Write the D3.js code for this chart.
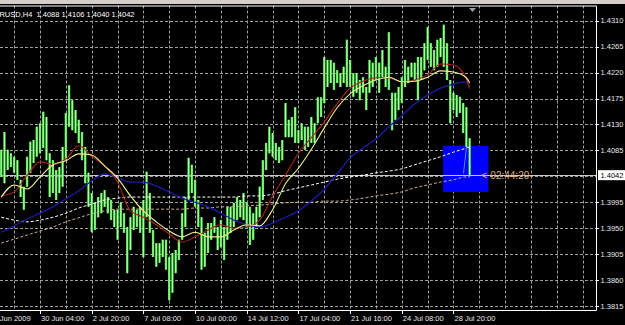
<!DOCTYPE html>
<html>
<head>
<meta charset="utf-8">
<script src="https://cdn.jsdelivr.net/npm/d3@7"></script>
<style>
  html, body { margin: 0; padding: 0; background: #000; }
  svg { display: block; }
  text { font-family: "Liberation Sans", Arial, sans-serif; }
</style>
</head>
<body>
<svg id="chart" width="625" height="325"></svg>
<script>
const titleText = "EURUSD,H4  1.4088 1.4106 1.4040 1.4042";

// H4 bars (index 0 = first visible bar)
const highs = [
  1.4086, 1.4117, 1.4086, 1.4080, 1.4074, 1.4068, 1.4034, 1.4022, 1.4074, 1.4100,
  1.4103, 1.4126, 1.4132, 1.4152, 1.4143, 1.4080, 1.4068, 1.4051, 1.4056, 1.4091,
  1.4150, 1.4198, 1.4172, 1.4155, 1.4138, 1.4117, 1.4091, 1.4046, 1.4011, 1.3994,
  1.4004, 1.4011, 1.4016, 1.4004, 1.3999, 1.3982, 1.3982, 1.3994, 1.3976, 1.3952,
  1.3969, 1.3987, 1.3982, 1.3987, 1.3999, 1.4048, 1.4011, 1.3947, 1.3924, 1.3924,
  1.3930, 1.3930, 1.3900, 1.3907, 1.3912, 1.3930, 1.3976, 1.4004, 1.4072, 1.4060,
  1.4034, 1.3999, 1.3969, 1.3942, 1.3959, 1.3959, 1.3969, 1.3952, 1.3964, 1.3952,
  1.3987, 1.3987, 1.3994, 1.4004, 1.3999, 1.4011, 1.3994, 1.3987, 1.3976, 1.3987,
  1.4022, 1.4068, 1.4098, 1.4126, 1.4115, 1.4098, 1.4091, 1.4103, 1.4167, 1.4138,
  1.4143, 1.4160, 1.4120, 1.4132, 1.4126, 1.4126, 1.4143, 1.4132, 1.4177, 1.4177,
  1.4247, 1.4242, 1.4242, 1.4237, 1.4224, 1.4219, 1.4230, 1.4277, 1.4242, 1.4219,
  1.4219, 1.4207, 1.4212, 1.4195, 1.4242, 1.4237, 1.4247, 1.4237, 1.4259, 1.4230,
  1.4290, 1.4185, 1.4185, 1.4195, 1.4212, 1.4242, 1.4230, 1.4237, 1.4237, 1.4247,
  1.4247, 1.4271, 1.4299, 1.4271, 1.4259, 1.4277, 1.4280, 1.4303, 1.4271, 1.4207,
  1.4185, 1.4181, 1.4178, 1.4167, 1.4160, 1.4106
];
const lows = [
  1.4039, 1.4028, 1.4051, 1.4056, 1.4046, 1.4034, 1.4004, 1.3982, 1.4022, 1.4046,
  1.4063, 1.4074, 1.4080, 1.4089, 1.4068, 1.4004, 1.4011, 1.3999, 1.4011, 1.4022,
  1.4068, 1.4126, 1.4120, 1.4115, 1.4098, 1.4068, 1.4028, 1.3987, 1.3943, 1.3947,
  1.3969, 1.3976, 1.3987, 1.3976, 1.3964, 1.3952, 1.3930, 1.3952, 1.3942, 1.3872,
  1.3912, 1.3947, 1.3952, 1.3942, 1.3900, 1.3969, 1.3942, 1.3900, 1.3883, 1.3890,
  1.3900, 1.3878, 1.3825, 1.3838, 1.3872, 1.3895, 1.3930, 1.3952, 1.3999, 1.4011,
  1.3987, 1.3952, 1.3878, 1.3883, 1.3907, 1.3930, 1.3942, 1.3912, 1.3917, 1.3895,
  1.3930, 1.3942, 1.3952, 1.3964, 1.3969, 1.3964, 1.3952, 1.3921, 1.3930, 1.3952,
  1.3969, 1.3999, 1.4051, 1.4080, 1.4074, 1.4068, 1.4063, 1.4068, 1.4108, 1.4108,
  1.4108, 1.4098, 1.4098, 1.4103, 1.4086, 1.4091, 1.4098, 1.4098, 1.4132, 1.4143,
  1.4167, 1.4195, 1.4202, 1.4190, 1.4202, 1.4195, 1.4202, 1.4195, 1.4195, 1.4178,
  1.4185, 1.4172, 1.4185, 1.4155, 1.4185, 1.4195, 1.4207, 1.4185, 1.4212, 1.4195,
  1.4190, 1.4120, 1.4138, 1.4155, 1.4167, 1.4195, 1.4202, 1.4212, 1.4207, 1.4172,
  1.4207, 1.4224, 1.4242, 1.4230, 1.4224, 1.4230, 1.4247, 1.4230, 1.4207, 1.4132,
  1.4155, 1.4143, 1.4150, 1.4115, 1.4091, 1.4040
];

// moving averages, read every 4 bars
const maBars = [0, 4, 8, 12, 16, 20, 24, 28, 32, 36, 40, 44, 48, 52, 56, 60, 64, 68, 72,
  76, 80, 84, 88, 92, 96, 100, 104, 108, 112, 116, 120, 124, 128, 132, 136, 140, 144, 145];
const maYellow = [1.4004, 1.4025, 1.4018, 1.4039, 1.4060, 1.4067, 1.4079, 1.4077, 1.4058, 1.4037,
  1.4006, 1.3980, 1.3961, 1.3945, 1.3935, 1.3943, 1.3935, 1.3935, 1.3947, 1.3956,
  1.3954, 1.3982, 1.4027, 1.4054, 1.4087, 1.4124, 1.4159, 1.4183, 1.4197, 1.4207,
  1.4212, 1.4204, 1.4205, 1.4212, 1.4223, 1.4221, 1.4211, 1.4202];
const maRed = [1.4006, 1.4013, 1.4042, 1.4065, 1.4061, 1.4070, 1.4093, 1.4075, 1.4058, 1.4030,
  1.3980, 1.3969, 1.3956, 1.3940, 1.3926, 1.3935, 1.3947, 1.3956, 1.3950, 1.3952,
  1.3964, 1.4006, 1.4042, 1.4080, 1.4107, 1.4134, 1.4166, 1.4193, 1.4205, 1.4211,
  1.4211, 1.4204, 1.4207, 1.4216, 1.4235, 1.4233, 1.4209, 1.4192];
const maBlue = [1.3943, 1.3954, 1.3966, 1.3976, 1.3987, 1.4001, 1.4015, 1.4032, 1.4044, 1.4037,
  1.4030, 1.4030, 1.4023, 1.4013, 1.4002, 1.3995, 1.3987, 1.3976, 1.3964, 1.3956,
  1.3952, 1.3959, 1.3969, 1.3980, 1.3997, 1.4018, 1.4044, 1.4072, 1.4089, 1.4105,
  1.4126, 1.4145, 1.4166, 1.4181, 1.4193, 1.4200, 1.4204, 1.4195];
const maWhite = [1.3969, 1.3964, 1.3961, 1.3964, 1.3969, 1.3976, 1.3985, 1.3992, 1.3999, 1.4002,
  1.4004, 1.4004, 1.4004, 1.4004, 1.4004, 1.4004, 1.4004, 1.4004, 1.4004, 1.4006,
  1.4006, 1.4009, 1.4015, 1.4020, 1.4025, 1.4030, 1.4035, 1.4039, 1.4042, 1.4046,
  1.4049, 1.4053, 1.4060, 1.4067, 1.4074, 1.4082, 1.4089, 1.4091];
const maTan = [1.3924, 1.3931, 1.3938, 1.3945, 1.3952, 1.3961, 1.3968, 1.3975, 1.3980, 1.3983,
  1.3983, 1.3983, 1.3983, 1.3983, 1.3983, 1.3985, 1.3985, 1.3987, 1.3987, 1.3989,
  1.3990, 1.3992, 1.3994, 1.3995, 1.3995, 1.3997, 1.3997, 1.3999, 1.4002, 1.4006,
  1.4009, 1.4013, 1.4020, 1.4025, 1.4030, 1.4034, 1.4039, 1.4039];

const priceTicks = [1.4310, 1.4265, 1.4220, 1.4175, 1.4130, 1.4085, 1.4040, 1.3995, 1.3950, 1.3905, 1.3860, 1.3815];
const timeTickBars = [-4, 12, 28, 44, 60, 76, 92, 108, 124, 140];
const timeTickLabels = ["26 Jun 2009", "30 Jun 04:00", "2 Jul 20:00", "7 Jul 08:00", "10 Jul 00:00",
  "14 Jul 12:00", "17 Jul 04:00", "21 Jul 16:00", "24 Jul 08:00", "28 Jul 20:00"];
const bidPrice = 1.4042;
const boxBars = [136.8, 150.8];
const boxPrices = [1.4013, 1.4093];
const trendBars = [144.0, 143.1];
const trendPrices = [1.4089, 1.4045];
const timerText = "02:44:20";

const svg = d3.select("#chart");
const width = +svg.attr("width");
const height = +svg.attr("height");

const plot = { left: 0, right: 596, top: 5.5, bottom: 310 };

const x = d3.scaleLinear().domain([0, 184]).range([1.24, 595.6]);
const y = d3.scaleLinear().domain([1.3815, 1.4310]).range([306, 20.7]);

svg.append("rect")
  .attr("width", width).attr("height", height)
  .attr("fill", "#000");

svg.append("defs").append("clipPath").attr("id", "plotClip")
  .append("rect")
  .attr("x", plot.left).attr("y", plot.top)
  .attr("width", plot.right - plot.left).attr("height", plot.bottom - plot.top);

const g = svg.append("g").attr("clip-path", "url(#plotClip)");

// grid
const gridBars = d3.range(4, 184, 8);
g.append("g").selectAll("line")
  .data(gridBars)
  .join("line")
  .attr("x1", d => Math.round(x(d)) + 0.5).attr("x2", d => Math.round(x(d)) + 0.5)
  .attr("y1", plot.top).attr("y2", plot.bottom)
  .attr("stroke", "#a0a0a0")
  .attr("stroke-width", 1)
  .attr("stroke-dasharray", "3,2");

g.append("g").selectAll("line")
  .data(priceTicks)
  .join("line")
  .attr("x1", plot.left).attr("x2", plot.right)
  .attr("y1", d => Math.round(y(d)) + 0.5).attr("y2", d => Math.round(y(d)) + 0.5)
  .attr("stroke", "#a0a0a0")
  .attr("stroke-width", 1)
  .attr("stroke-dasharray", "3,2");

// blue box object
g.append("rect")
  .attr("x", x(boxBars[0])).attr("y", y(boxPrices[1]))
  .attr("width", x(boxBars[1]) - x(boxBars[0]))
  .attr("height", y(boxPrices[0]) - y(boxPrices[1]))
  .attr("fill", "#0000ff");

// bid line
g.append("line")
  .attr("x1", plot.left).attr("x2", plot.right)
  .attr("y1", Math.round(y(bidPrice)) + 0.5).attr("y2", Math.round(y(bidPrice)) + 0.5)
  .attr("stroke", "#c8c8c8");

// bars
const bars = highs.map((h, i) => ({ i, h, l: lows[i] }));
g.append("g").selectAll("rect")
  .data(bars)
  .join("rect")
  .attr("x", d => x(d.i) - 1.2)
  .attr("y", d => y(d.h))
  .attr("width", 2.4)
  .attr("height", d => y(d.l) - y(d.h))
  .attr("fill", "#3fd63f");
g.append("g").selectAll("line")
  .data(bars)
  .join("line")
  .attr("x1", d => x(d.i)).attr("x2", d => x(d.i))
  .attr("y1", d => y(d.h)).attr("y2", d => y(d.l))
  .attr("stroke", "#b4ffa8")
  .attr("stroke-width", 1.1);

// moving averages
const maLine = vals => d3.line()
  .x((d, k) => x(maBars[k]))
  .y(d => y(d))
  .curve(d3.curveMonotoneX)(vals);

const maStyles = [
  { vals: maTan, color: "#c9a98c", dash: "3,2", w: 1 },
  { vals: maWhite, color: "#ffffff", dash: "3,2", w: 1 },
  { vals: maBlue, color: "#1c1ca8", dash: null, w: 1.3 },
  { vals: maRed, color: "#a8281e", dash: null, w: 1.1 },
  { vals: maYellow, color: "#f2f28c", dash: null, w: 1.1 }
];
g.append("g").selectAll("path")
  .data(maStyles)
  .join("path")
  .attr("d", d => maLine(d.vals))
  .attr("fill", "none")
  .attr("stroke", d => d.color)
  .attr("stroke-width", d => d.w)
  .attr("stroke-dasharray", d => d.dash);

// thin trend line in the box
g.append("line")
  .attr("x1", x(trendBars[0])).attr("y1", y(trendPrices[0]))
  .attr("x2", x(trendBars[1])).attr("y2", y(trendPrices[1]))
  .attr("stroke", "#6aa8ff")
  .attr("stroke-width", 0.8);

// countdown
svg.append("text")
  .attr("x", x(boxBars[1]) - 7).attr("y", y(bidPrice) + 4)
  .attr("font-size", 10)
  .attr("fill", "#f09a5a")
  .text("<");
svg.append("text")
  .attr("x", x(boxBars[1]) + 2).attr("y", y(bidPrice) + 4)
  .attr("font-size", 10)
  .attr("fill", "#dcaa78")
  .text(timerText);

// frame
svg.append("path")
  .attr("d", `M${plot.left},${plot.top + 0.5}H${plot.right + 0.5}V${plot.bottom + 0.5}H${plot.left}`)
  .attr("fill", "none")
  .attr("stroke", "#ffffff");

// price axis
const yAxisG = svg.append("g");
yAxisG.selectAll("line")
  .data(priceTicks.filter(p => p !== 1.4040))
  .join("line")
  .attr("x1", plot.right).attr("x2", plot.right + 3)
  .attr("y1", d => Math.round(y(d)) + 0.5).attr("y2", d => Math.round(y(d)) + 0.5)
  .attr("stroke", "#fff");
yAxisG.selectAll("text")
  .data(priceTicks.filter(p => p !== 1.4040))
  .join("text")
  .attr("x", plot.right + 4.5)
  .attr("y", d => y(d) + 2.7)
  .attr("font-size", 7.5)
  .attr("fill", "#e8e8e8")
  .text(d => d.toFixed(4));

// bid label
svg.append("rect")
  .attr("x", plot.right + 2).attr("y", y(bidPrice) - 5)
  .attr("width", 27).attr("height", 10)
  .attr("fill", "#fff");
svg.append("text")
  .attr("x", plot.right + 4.5).attr("y", y(bidPrice) + 2.7)
  .attr("font-size", 7.5)
  .attr("fill", "#000")
  .text(bidPrice.toFixed(4));

// time axis
const xAxisG = svg.append("g");
xAxisG.selectAll("line")
  .data(timeTickBars)
  .join("line")
  .attr("x1", d => Math.round(x(d)) + 0.5).attr("x2", d => Math.round(x(d)) + 0.5)
  .attr("y1", plot.bottom).attr("y2", plot.bottom + 4)
  .attr("stroke", "#fff");
xAxisG.selectAll("text")
  .data(timeTickLabels)
  .join("text")
  .attr("x", (d, k) => x(timeTickBars[k]) + 1)
  .attr("y", 321)
  .attr("font-size", 7.5)
  .attr("fill", "#e8e8e8")
  .text(d => d);

// title
svg.append("text")
  .attr("x", -11)
  .attr("y", 17)
  .attr("font-size", 7.5)
  .attr("fill", "#ffffff")
  .attr("xml:space", "preserve")
  .text(titleText);

// chart shift marker
svg.append("path")
  .attr("d", "M469,8H476L472.5,12Z")
  .attr("fill", "#a0a0a0");

// window edge
svg.append("rect")
  .attr("width", width).attr("height", 4)
  .attr("fill", "#d4d0c8");
</script>
</body>
</html>
